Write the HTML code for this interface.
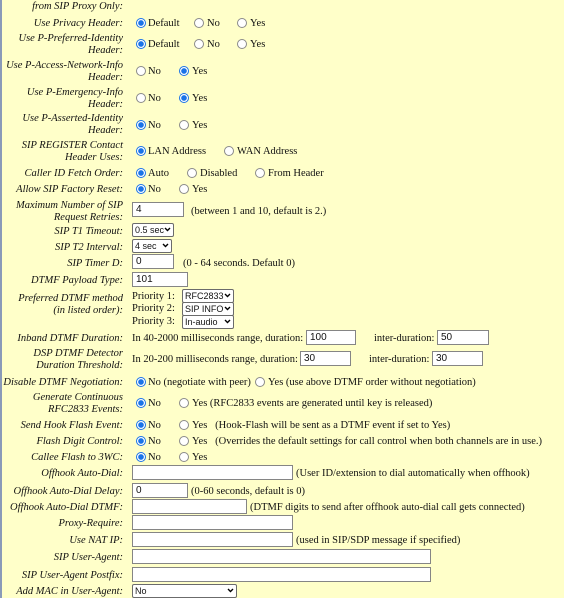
<!DOCTYPE html>
<html><head><meta charset="utf-8"><style>
body{margin:0;width:564px;height:598px;overflow:hidden;background:#ffffc9;position:relative;font-family:"Liberation Serif",serif;font-size:10.5px;color:#111}
.bl{position:absolute;left:0;top:0;width:2px;height:598px;background:#8a9ab8}
.l{position:absolute;right:441px;text-align:right;font-style:italic;line-height:12px;white-space:nowrap;margin-top:1.5px}
.t{position:absolute;line-height:12px;white-space:nowrap;margin-top:1.5px}
.r{position:absolute;width:8px;height:8px;border:1px solid #8a8a8a;border-radius:50%;background:#fff;margin-top:1px}
.r.c{border-color:#1a73e8;background:radial-gradient(circle,#1a73e8 0 2.6px,#fff 3px)}
.i{position:absolute;height:15px;border:1px solid #858585;background:#fff;font-family:"Liberation Sans",sans-serif;font-size:10px;line-height:13px;padding-left:3px;box-sizing:border-box}
.s{position:absolute;height:14px;border:1px solid #6b6b6b;border-radius:2px;background:#fff;font-family:"Liberation Sans",sans-serif;font-size:9px;line-height:12px;padding-left:2px;box-sizing:border-box;overflow:hidden;white-space:nowrap}
.s svg{position:absolute;right:2px;top:3px;background:#fff}
</style></head><body>
<div class="bl"></div>
<div class="l" style="top:-1px">from SIP Proxy Only:</div>

<div class="l" style="top:16px">Use Privacy Header:</div>
<div class="r c" style="left:136px;top:17px"></div><div class="t" style="left:148px;top:16px">Default</div>
<div class="r" style="left:194px;top:17px"></div><div class="t" style="left:207px;top:16px">No</div>
<div class="r" style="left:237px;top:17px"></div><div class="t" style="left:250px;top:16px">Yes</div>

<div class="l" style="top:31px">Use P-Preferred-Identity<br>Header:</div>
<div class="r c" style="left:136px;top:38px"></div><div class="t" style="left:148px;top:37px">Default</div>
<div class="r" style="left:194px;top:38px"></div><div class="t" style="left:207px;top:37px">No</div>
<div class="r" style="left:237px;top:38px"></div><div class="t" style="left:250px;top:37px">Yes</div>

<div class="l" style="top:58px">Use P-Access-Network-Info<br>Header:</div>
<div class="r" style="left:136px;top:65px"></div><div class="t" style="left:148px;top:64px">No</div>
<div class="r c" style="left:179px;top:65px"></div><div class="t" style="left:192px;top:64px">Yes</div>

<div class="l" style="top:85px">Use P-Emergency-Info<br>Header:</div>
<div class="r" style="left:136px;top:92px"></div><div class="t" style="left:148px;top:91px">No</div>
<div class="r c" style="left:179px;top:92px"></div><div class="t" style="left:192px;top:91px">Yes</div>

<div class="l" style="top:111px">Use P-Asserted-Identity<br>Header:</div>
<div class="r c" style="left:136px;top:119px"></div><div class="t" style="left:148px;top:118px">No</div>
<div class="r" style="left:179px;top:119px"></div><div class="t" style="left:192px;top:118px">Yes</div>

<div class="l" style="top:138px">SIP REGISTER Contact<br>Header Uses:</div>
<div class="r c" style="left:136px;top:145px"></div><div class="t" style="left:148px;top:144px">LAN Address</div>
<div class="r" style="left:224px;top:145px"></div><div class="t" style="left:237px;top:144px">WAN Address</div>

<div class="l" style="top:166px">Caller ID Fetch Order:</div>
<div class="r c" style="left:136px;top:167px"></div><div class="t" style="left:148px;top:166px">Auto</div>
<div class="r" style="left:187px;top:167px"></div><div class="t" style="left:200px;top:166px">Disabled</div>
<div class="r" style="left:255px;top:167px"></div><div class="t" style="left:268px;top:166px">From Header</div>

<div class="l" style="top:182px">Allow SIP Factory Reset:</div>
<div class="r c" style="left:136px;top:183px"></div><div class="t" style="left:148px;top:182px">No</div>
<div class="r" style="left:179px;top:183px"></div><div class="t" style="left:192px;top:182px">Yes</div>

<div class="l" style="top:198px">Maximum Number of SIP<br>Request Retries:</div>
<div class="i" style="left:132px;top:202px;width:52px">4</div>
<div class="t" style="left:191px;top:204px">(between 1 and 10, default is 2.)</div>

<div class="l" style="top:224px">SIP T1 Timeout:</div>
<div class="s" style="left:132px;top:223px;width:42px">0.5 sec<svg width="7" height="5"><path d="M1 1l2.5 2.5L6 1" stroke="#000" stroke-width="1.4" fill="none"/></svg></div>

<div class="l" style="top:240px">SIP T2 Interval:</div>
<div class="s" style="left:132px;top:239px;width:40px">4 sec<svg width="7" height="5"><path d="M1 1l2.5 2.5L6 1" stroke="#000" stroke-width="1.4" fill="none"/></svg></div>

<div class="l" style="top:256px">SIP Timer D:</div>
<div class="i" style="left:132px;top:254px;width:42px">0</div>
<div class="t" style="left:183px;top:256px">(0 - 64 seconds. Default 0)</div>

<div class="l" style="top:273px">DTMF Payload Type:</div>
<div class="i" style="left:132px;top:272px;width:56px">101</div>

<div class="l" style="top:291px">Preferred DTMF method<br>(in listed order):</div>
<div class="t" style="left:132px;top:289px">Priority 1:</div>
<div class="t" style="left:132px;top:301px">Priority 2:</div>
<div class="t" style="left:132px;top:314px">Priority 3:</div>
<div class="s" style="left:182px;top:289px;width:52px">RFC2833<svg width="7" height="5"><path d="M1 1l2.5 2.5L6 1" stroke="#000" stroke-width="1.4" fill="none"/></svg></div>
<div class="s" style="left:182px;top:302px;width:52px">SIP INFO<svg width="7" height="5"><path d="M1 1l2.5 2.5L6 1" stroke="#000" stroke-width="1.4" fill="none"/></svg></div>
<div class="s" style="left:182px;top:315px;width:52px">In-audio<svg width="7" height="5"><path d="M1 1l2.5 2.5L6 1" stroke="#000" stroke-width="1.4" fill="none"/></svg></div>

<div class="l" style="top:331px">Inband DTMF Duration:</div>
<div class="t" style="left:132px;top:331px">In 40-2000 milliseconds range, duration:</div>
<div class="i" style="left:306px;top:330px;width:50px">100</div>
<div class="t" style="left:374px;top:331px">inter-duration:</div>
<div class="i" style="left:437px;top:330px;width:52px">50</div>

<div class="l" style="top:346px">DSP DTMF Detector<br>Duration Threshold:</div>
<div class="t" style="left:132px;top:352px">In 20-200 milliseconds range, duration:</div>
<div class="i" style="left:300px;top:351px;width:51px">30</div>
<div class="t" style="left:369px;top:352px">inter-duration:</div>
<div class="i" style="left:432px;top:351px;width:51px">30</div>

<div class="l" style="top:375px">Disable DTMF Negotiation:</div>
<div class="r c" style="left:136px;top:376px"></div><div class="t" style="left:148px;top:375px">No (negotiate with peer)</div>
<div class="r" style="left:255px;top:376px"></div><div class="t" style="left:268px;top:375px">Yes (use above DTMF order without negotiation)</div>

<div class="l" style="top:390px">Generate Continuous<br>RFC2833 Events:</div>
<div class="r c" style="left:136px;top:397px"></div><div class="t" style="left:148px;top:396px">No</div>
<div class="r" style="left:179px;top:397px"></div><div class="t" style="left:192px;top:396px">Yes (RFC2833 events are generated until key is released)</div>

<div class="l" style="top:418px">Send Hook Flash Event:</div>
<div class="r c" style="left:136px;top:419px"></div><div class="t" style="left:148px;top:418px">No</div>
<div class="r" style="left:179px;top:419px"></div><div class="t" style="left:192px;top:418px">Yes&nbsp;&nbsp; (Hook-Flash will be sent as a DTMF event if set to Yes)</div>

<div class="l" style="top:434px">Flash Digit Control:</div>
<div class="r c" style="left:136px;top:435px"></div><div class="t" style="left:148px;top:434px">No</div>
<div class="r" style="left:179px;top:435px"></div><div class="t" style="left:192px;top:434px">Yes&nbsp;&nbsp; (Overrides the default settings for call control when both channels are in use.)</div>

<div class="l" style="top:450px">Callee Flash to 3WC:</div>
<div class="r c" style="left:136px;top:451px"></div><div class="t" style="left:148px;top:450px">No</div>
<div class="r" style="left:179px;top:451px"></div><div class="t" style="left:192px;top:450px">Yes</div>

<div class="l" style="top:466px">Offhook Auto-Dial:</div>
<div class="i" style="left:132px;top:465px;width:161px"></div>
<div class="t" style="left:296px;top:466px">(User ID/extension to dial automatically when offhook)</div>

<div class="l" style="top:484px">Offhook Auto-Dial Delay:</div>
<div class="i" style="left:132px;top:483px;width:56px">0</div>
<div class="t" style="left:191px;top:484px">(0-60 seconds, default is 0)</div>

<div class="l" style="top:500px">Offhook Auto-Dial DTMF:</div>
<div class="i" style="left:132px;top:499px;width:115px"></div>
<div class="t" style="left:250px;top:500px">(DTMF digits to send after offhook auto-dial call gets connected)</div>

<div class="l" style="top:516px">Proxy-Require:</div>
<div class="i" style="left:132px;top:515px;width:161px"></div>

<div class="l" style="top:533px">Use NAT IP:</div>
<div class="i" style="left:132px;top:532px;width:161px"></div>
<div class="t" style="left:296px;top:533px">(used in SIP/SDP message if specified)</div>

<div class="l" style="top:550px">SIP User-Agent:</div>
<div class="i" style="left:132px;top:549px;width:299px"></div>

<div class="l" style="top:568px">SIP User-Agent Postfix:</div>
<div class="i" style="left:132px;top:567px;width:299px"></div>

<div class="l" style="top:584px">Add MAC in User-Agent:</div>
<div class="s" style="left:132px;top:584px;width:105px">No<svg width="7" height="5"><path d="M1 1l2.5 2.5L6 1" stroke="#000" stroke-width="1.4" fill="none"/></svg></div>
</body></html>
